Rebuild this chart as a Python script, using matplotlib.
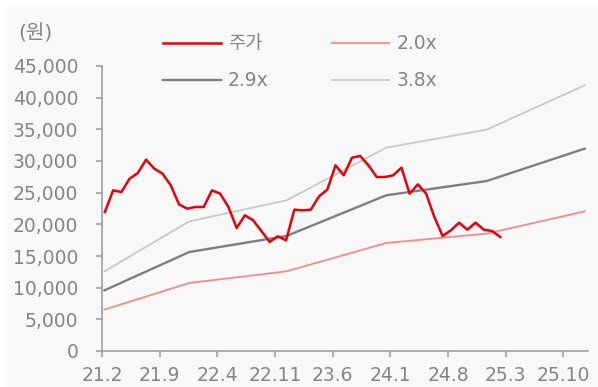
import numpy as np
import matplotlib
matplotlib.use("Agg")
import matplotlib.pyplot as plt
from matplotlib.patches import Rectangle

plt.rcParams['font.family'] = ['DejaVu Sans', 'Noto Sans CJK KR']

# x positions are months counted from Feb 2021
tick_months = [0, 7, 14, 21, 28, 35, 42, 49, 56]
tick_labels = ['21.2', '21.9', '22.4', '22.11', '23.6', '24.1', '24.8', '25.3', '25.10']

# monthly share price (KRW)
price = [21950, 25370, 25100, 27210, 28100, 30210, 28790, 28000, 26160, 23160,
         22470, 22740, 22740, 25370, 24840, 22740, 19420, 21420, 20630, 18950,
         17210, 18110, 17470, 22320, 22210, 22320, 24420, 25470, 29320, 27740,
         30530, 30790, 29320, 27470, 27470, 27740, 28950, 24840, 26320, 24840,
         21160, 18160, 19050, 20260, 19160, 20260, 19160, 18950, 18000]
price_months = np.arange(len(price)) + 0.35

# PBR band lines (KRW), vertices at year-end book values
band_months = [0.3, 10.6, 22.4, 34.5, 46.7, 58.6]
band_20x = [6530, 10740, 12580, 17050, 18530, 22050]
band_29x = [9580, 15630, 18160, 24580, 26840, 31950]
band_38x = [12580, 20470, 23790, 32100, 34950, 41950]

W, H = 598, 387
fig = plt.figure(figsize=(W / 100, H / 100), dpi=100, facecolor='white')
fig.patches.append(Rectangle((7 / W, 0), 1 - 7 / W, 1 - 7 / H, transform=fig.transFigure,
                             facecolor='#f8f8f8', edgecolor='none', zorder=-10))

ax = fig.add_axes([102 / W, 1 - 351 / H, (588 - 102) / W, (351 - 66) / H])
ax.set_facecolor('none')
ax.set_zorder(2)

text_gray = '#858585'

l_price, = ax.plot(price_months, price, color='#e8000b', lw=1.8, label='주가', zorder=5)
l_29, = ax.plot(band_months, band_29x, color='#7f7f7f', lw=1.7, label='2.9x', zorder=3)
l_20, = ax.plot(band_months, band_20x, color='#f48a8a', lw=1.3, label='2.0x', zorder=3)
l_38, = ax.plot(band_months, band_38x, color='#c8c8c8', lw=1.3, label='3.8x', zorder=3)

ax.set_xlim(0, 59)
ax.set_ylim(0, 45000)
ax.set_yticks(np.arange(0, 45001, 5000))
ax.set_yticklabels([f'{v:,}' for v in range(0, 45001, 5000)])
ax.set_xticks(tick_months)
ax.set_xticklabels(tick_labels)

for s in ['top', 'right']:
    ax.spines[s].set_visible(False)
for s in ['left', 'bottom']:
    ax.spines[s].set_color('#a0a0a0')
    ax.spines[s].set_linewidth(1.2)

ax.tick_params(axis='y', direction='out', length=4, width=1.2, color='#a0a0a0',
               labelsize=13.5, labelcolor=text_gray, pad=13)
ax.tick_params(axis='x', direction='out', length=4, width=1.2, color='#a0a0a0',
               labelsize=13.5, labelcolor=text_gray, pad=7)

fig.text(18 / W, 1 - 34 / H, '(원)', fontsize=14.5, color=text_gray, va='center', ha='left')

leg = fig.legend(handles=[l_price, l_29, l_20, l_38], ncol=2, loc='upper left',
                 bbox_to_anchor=(154 / W, 1 - 25 / H), frameon=False, borderpad=0,
                 fontsize=13.5, handlelength=3.05, handletextpad=0.4,
                 columnspacing=3.35, labelspacing=0.95)
leg.set_zorder(3)
for t in leg.get_texts():
    t.set_color(text_gray)

fig.savefig('out.png', dpi=100, facecolor=fig.get_facecolor())
